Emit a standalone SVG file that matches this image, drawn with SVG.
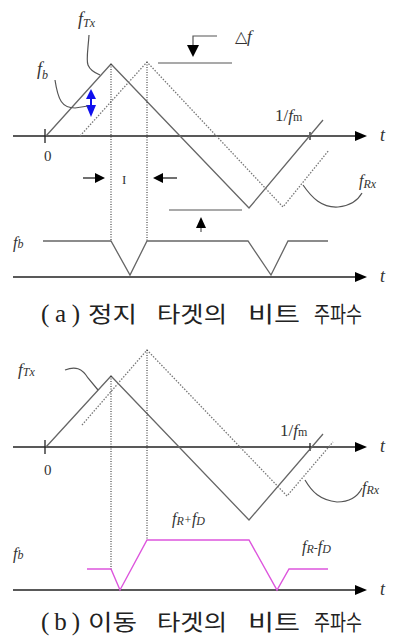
<svg xmlns="http://www.w3.org/2000/svg" width="396" height="638" viewBox="0 0 396 638">
<style>
.ax{stroke:#222;stroke-width:1.3;fill:none}
.sol{stroke:#666;stroke-width:1.3;fill:none}
.dot{stroke:#777;stroke-width:1.3;fill:none;stroke-dasharray:1.5 1.5}
.vd{stroke:#222;stroke-width:1;fill:none;stroke-dasharray:1 1.5}
.ld{stroke:#555;stroke-width:1.2;fill:none}
.pk{stroke:#dd55dd;stroke-width:1.4;fill:none}
.blk{fill:#000}
.it{font-family:"Liberation Serif",serif;font-style:italic;fill:#333}
.rm{font-family:"Liberation Serif",serif;fill:#333}
.cap{font-family:"Liberation Serif","Noto Sans CJK KR",sans-serif;font-size:22px;fill:#222}
.par{font-size:25px}
</style>
<g id="connectors">
<line class="ax" x1="13" y1="136" x2="357" y2="136"/>
<polygon class="blk" points="355,131 367,136 355,141"/>
<line class="ax" x1="45" y1="129" x2="45" y2="143"/>
<line class="ax" x1="310" y1="132" x2="310" y2="140"/>
<line class="ax" x1="13" y1="277" x2="357" y2="277"/>
<polygon class="blk" points="355,272 367,277 355,282"/>
<polyline class="sol" points="46,136 111,64 249,208 323,120"/>
<polyline class="dot" points="80,136 147,62 283,207 329,150"/>
<line class="vd" x1="111" y1="64" x2="111" y2="242"/>
<line class="vd" x1="147" y1="62" x2="147" y2="242"/>
<polyline class="sol" points="43,241 111,241 130,275 147,241 248,241 271,275 288,241 328,241"/>
<polyline class="ld" points="217,36 193,36 193,46"/>
<polygon class="blk" points="187,45 199,45 193,57"/>
<line class="ld" x1="158" y1="63" x2="232" y2="63"/>
<line class="ld" x1="169" y1="210" x2="242" y2="210"/>
<polygon class="blk" points="196,228 206,228 201,217"/>
<line class="ld" x1="201" y1="228" x2="201" y2="232"/>
<line class="ax" x1="83" y1="178" x2="96" y2="178"/>
<polygon class="blk" points="95,173 105,178 95,183"/>
<line class="ax" x1="163" y1="178" x2="177" y2="178"/>
<polygon class="blk" points="163,173 153,178 163,183"/>
<polygon fill="#1010ee" points="86,99 96,99 91,89"/>
<line stroke="#1010ee" stroke-width="2" x1="91" y1="98" x2="91" y2="106"/>
<polygon fill="#1010ee" points="86,105 96,105 91,117"/>
<path class="ld" d="M89,35 C88,50 86,60 88,65 C90,70 95,73 100,75"/>
<path class="ld" d="M55,80 C58,100 62,108 75,108 L88,106"/>
<path class="ld" d="M303,185 C312,198 322,208 338,207 C350,206 358,200 362,193"/>
<line class="ax" x1="13" y1="447" x2="357" y2="447"/>
<polygon class="blk" points="355,442 367,447 355,452"/>
<line class="ax" x1="45" y1="440" x2="45" y2="454"/>
<line class="ax" x1="310" y1="443" x2="310" y2="451"/>
<line class="ax" x1="13" y1="590" x2="357" y2="590"/>
<polygon class="blk" points="355,585 367,590 355,595"/>
<polyline class="sol" points="46,447 111,376 249,520 323,434"/>
<polyline class="dot" points="82,425 147,350 287,496 333,442"/>
<line class="vd" x1="111" y1="376" x2="111" y2="570"/>
<line class="vd" x1="147" y1="350" x2="147" y2="540"/>
<polyline class="pk" points="87,569 111,569 120,590 147,540 249,540 277,590 289,569 328,569"/>
<path class="ld" d="M65,370 C75,366 82,368 88,378 L98,390"/>
<path class="ld" d="M305,480 C312,492 320,500 337,502 C350,502 358,496 362,488"/>
</g>
<g id="labels-a">
<text class="it" x="78" y="25" font-size="18">f<tspan font-size="12" dy="2">Tx</tspan></text>
<text class="it" x="37" y="75" font-size="18">f<tspan font-size="12" dy="4">b</tspan></text>
<text class="rm" x="235" y="42" font-size="16">△<tspan class="it" font-size="17">f</tspan></text>
<text class="rm" x="275" y="121" font-size="17">1/<tspan class="it">f</tspan><tspan font-size="12">m</tspan></text>
<text class="it" x="380" y="141" font-size="18">t</text>
<text class="rm" x="44" y="161" font-size="15">0</text>
<text class="rm" x="122" y="184" font-size="13" fill="#555">I</text>
<text class="it" x="359" y="186" font-size="16">f<tspan font-size="12" dy="2">Rx</tspan></text>
<text class="it" x="13" y="248" font-size="16">f<tspan font-size="12">b</tspan></text>
<text class="it" x="380" y="282" font-size="18">t</text>
<text class="cap" y="322"><tspan class="par" x="41" textLength="39" lengthAdjust="spacing">(a)</tspan><tspan x="88" textLength="49" lengthAdjust="spacingAndGlyphs">정지</tspan><tspan x="157" textLength="70" lengthAdjust="spacingAndGlyphs">타겟의</tspan><tspan x="248" textLength="52" lengthAdjust="spacingAndGlyphs">비트</tspan><tspan x="314" textLength="48" lengthAdjust="spacingAndGlyphs">주파수</tspan></text>
</g>
<g id="labels-b">
<text class="it" x="18" y="375" font-size="17">f<tspan font-size="12" dy="1">Tx</tspan></text>
<text class="rm" x="280" y="436" font-size="17">1/<tspan class="it">f</tspan><tspan font-size="12">m</tspan></text>
<text class="it" x="380" y="452" font-size="18">t</text>
<text class="rm" x="44" y="475" font-size="15">0</text>
<text class="it" x="362" y="493" font-size="16">f<tspan font-size="12" dy="1">Rx</tspan></text>
<text class="it" x="172" y="524" font-size="16">f<tspan font-size="12" dy="1">R</tspan><tspan class="rm" font-size="12" dy="-1">+</tspan>f<tspan font-size="12" dy="1">D</tspan></text>
<text class="it" x="302" y="552" font-size="16">f<tspan font-size="12" dy="1">R</tspan><tspan class="rm" font-size="12" dy="-1">-</tspan>f<tspan font-size="12" dy="1">D</tspan></text>
<text class="it" x="13" y="559" font-size="16">f<tspan font-size="12">b</tspan></text>
<text class="it" x="380" y="595" font-size="18">t</text>
<text class="cap" y="630"><tspan class="par" x="41" textLength="39" lengthAdjust="spacing">(b)</tspan><tspan x="88" textLength="49" lengthAdjust="spacingAndGlyphs">이동</tspan><tspan x="157" textLength="70" lengthAdjust="spacingAndGlyphs">타겟의</tspan><tspan x="248" textLength="52" lengthAdjust="spacingAndGlyphs">비트</tspan><tspan x="314" textLength="48" lengthAdjust="spacingAndGlyphs">주파수</tspan></text>
</g>
</svg>
